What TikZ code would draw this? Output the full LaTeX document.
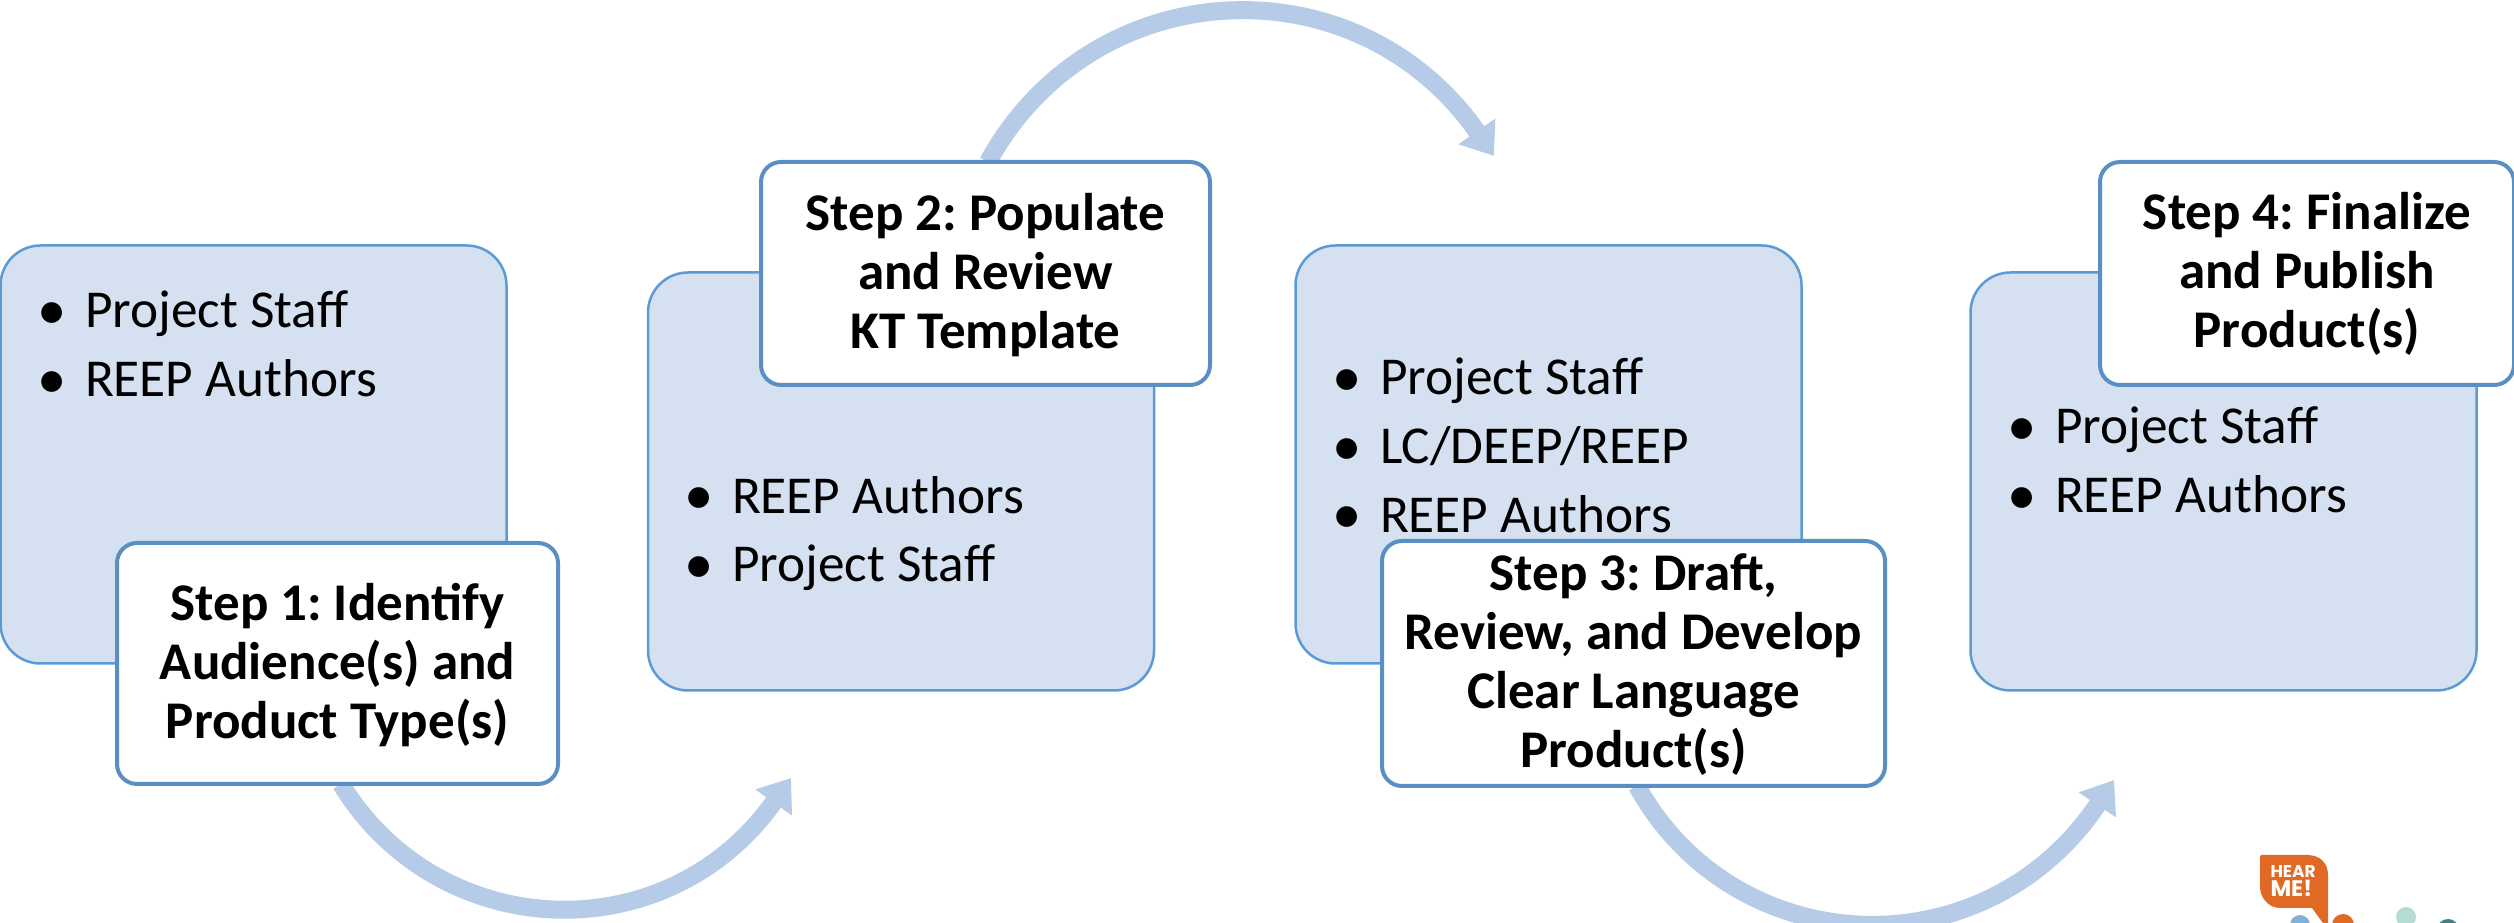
\documentclass[tikz,border=0pt]{standalone}
\usepackage{fontspec}
\setmainfont{Carlito}
\newfontfamily\logofont{Poppins}
\usetikzlibrary{arrows.meta,backgrounds}
\frenchspacing
\definecolor{boxfill}{HTML}{D5E1F0}
\definecolor{boxline}{HTML}{5B9BD5}
\definecolor{stepline}{HTML}{5A8FC4}
\definecolor{arrowblue}{HTML}{B5CBE8}
\definecolor{logoorange}{HTML}{E06A25}
\definecolor{logoblue}{HTML}{7FB2D6}
\definecolor{logomint}{HTML}{B3DCD5}
\definecolor{logoteal}{HTML}{3E8288}
\tikzset{
  x=1pt,y=1pt,
  every node/.style={inner sep=0pt,outer sep=0pt},
  bluebox/.style={draw=boxline,line width=2.5pt,fill=boxfill,rounded corners=40pt,minimum width=506pt,minimum height=418pt},
  stepbox/.style={draw=stepline,line width=4pt,fill=white,rounded corners=20pt,align=center,font=\fontsize{53}{59}\selectfont\bfseries},
  bullets/.style={align=left,anchor=north west,font=\fontsize{53.3}{68.6}\selectfont},
  flow/.style={draw=arrowblue,line width=18pt,-{Triangle[length=30pt,width=43pt,fill=arrowblue]}},
  logotext/.style={text=white,anchor=base west,font=\logofont\bfseries},
}
\newcommand{\bul}{\makebox[47pt][l]{\raisebox{-0.03em}{\hspace{-0.5pt}\scalebox{1.1}{\textbullet}}}}
\newcommand{\steplines}[2][10]{\raisebox{-#1pt}[0pt][0pt]{\begin{tabular}{@{}c@{}}#2\end{tabular}}}
\begin{document}
\begin{tikzpicture}
\useasboundingbox (0,0) rectangle (2514,923);
\coordinate (e1) at (791,145);
\coordinate (e2) at (1494,767);
\coordinate (e3) at (2114,143);
\node[bluebox] (b1) at (253.5,468.5) {};
\node[bluebox] (b2) at (901,441.5) {};
\node[bluebox] (b3) at (1548.5,468.5) {};
\node[bluebox] (b4) at (2223.5,441.5) {};
\node[bullets] (t1) at (38,632) {\bul Project Staff\\\bul REEP Authors};
\node[bullets] (t2) at (685,447) {\bul REEP Authors\\\bul Project Staff};
\node[bullets] (t3) at (1333,565) {\bul Project Staff\\\bul LC/DEEP/REEP\\\bul REEP Authors};
\node[bullets] (t4) at (2008,516) {\bul Project Staff\\\bul REEP Authors};
\node[stepbox,minimum width=441pt,minimum height=241pt] (w1) at (337.5,259.5) {\steplines{Step 1: Identify\\Audience(s) and\\Product Type(s)}};
\node[stepbox,minimum width=449pt,minimum height=223pt] (w2) at (985.5,649.5) {\steplines{Step 2: Populate\\and Review\\KT Template}};
\node[stepbox,minimum width=503pt,minimum height=245pt] (w3) at (1633.5,259.5) {\steplines{Step 3: Draft,\\Review, and Develop\\Clear Language\\Product(s)}};
\node[stepbox,minimum width=414pt,minimum height=223pt] (w4) at (2307,649.5) {\steplines[9]{Step 4: Finalize\\and Publish\\Product(s)}};
\begin{scope}[on background layer]
\draw[flow] ([xshift=3.5pt]w1.south) .. controls +(97,-159) and +(-125,-176) .. (e1);
\draw[flow] ([xshift=2.5pt]w2.north) .. controls +(104,190) and +(-138,198) .. (e2);
\draw[flow] ([xshift=3.5pt]w3.south) .. controls +(98,-177) and +(-129,-193) .. (e3);
\end{scope}
% logo
\fill[logoblue] (2300,-2) circle (10);
\fill[logoorange] (2343,-2) circle (11);
\fill[logomint] (2406,6) circle (10);
\fill[logoteal] (2448,-7) circle (11);
\fill[logoorange] (2260,66) .. controls (2260,67.5) and (2261,68) .. (2262,68) -- (2307,68) .. controls (2320,68) and (2328,60) .. (2328,48) -- (2328,0) -- (2323,0) -- (2312,15) -- (2280,15) .. controls (2268,15) and (2260,26) .. (2260,36) -- cycle;
\node[logotext,font=\logofont\bfseries\fontsize{17}{17}\selectfont] (logoa) at (2270.5,45) {HEAR};
\node[logotext,font=\logofont\bfseries\fontsize{22.5}{22}\selectfont] (logob) at (2270.5,26) {ME!};
\end{tikzpicture}
\end{document}
